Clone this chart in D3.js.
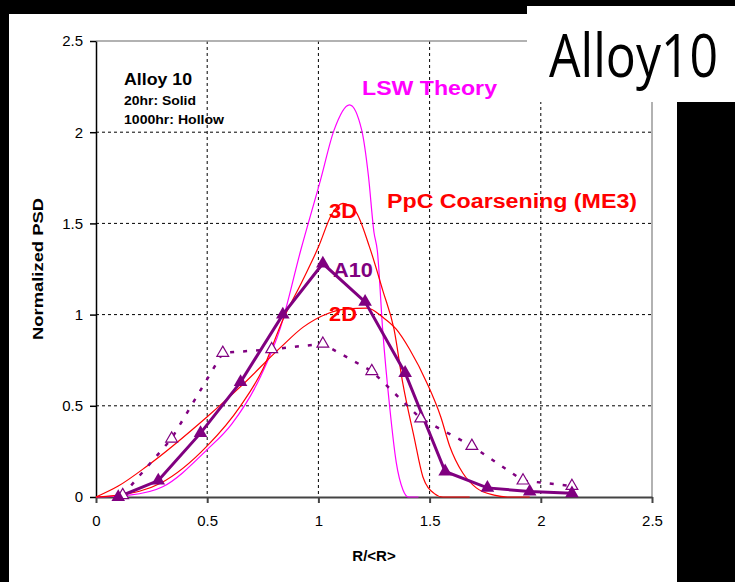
<!DOCTYPE html>
<html lang="en">
<head>
    <meta charset="UTF-8">
    <script src="https://d3js.org/d3.v7.min.js"></script>
    <title>Alloy10 PSD</title>
    <style>
        html, body { margin: 0; padding: 0; background: #000; }
        svg { display: block; }
        .tick text { font-family: "Liberation Sans", Arial, sans-serif; font-size: 15px; fill: #000; }
    </style>
</head>
<body>
    <div class="fig"></div>
    <script>
        // ---------------- data ----------------
        const xTicks = [0, 0.5, 1, 1.5, 2, 2.5];
        const yTicks = [0, 0.5, 1, 1.5, 2, 2.5];

        // Alloy 10, 20hr (solid triangles)
        const solidX = [0.10, 0.28, 0.47, 0.65, 0.84, 1.02, 1.21, 1.39, 1.57, 1.76, 1.95, 2.14];
        const solidY = [0.00, 0.09, 0.35, 0.63, 1.00, 1.28, 1.07, 0.68, 0.14, 0.05, 0.03, 0.02];

        // Alloy 10, 1000hr (hollow triangles)
        const hollowX = [0.12, 0.34, 0.57, 0.79, 1.02, 1.24, 1.46, 1.69, 1.92, 2.14];
        const hollowY = [0.01, 0.32, 0.79, 0.81, 0.84, 0.69, 0.43, 0.28, 0.09, 0.06];

        // LSW theory curve
        const lswX = [0, 0.15, 0.30, 0.50, 0.61, 0.74, 0.83, 0.92, 1.01, 1.07, 1.14, 1.195, 1.225, 1.25, 1.265, 1.29, 1.32, 1.35, 1.38, 1.405, 1.45];
        const lswY = [0, 0.01, 0.056, 0.26, 0.40, 0.66, 0.93, 1.35, 1.74, 2.01, 2.15, 2.01, 1.76, 1.45, 1.35, 0.90, 0.50, 0.19, 0.04, 0, 0];

        // PpC coarsening 3D curve
        const ppc3dX = [0, 0.10, 0.29, 0.50, 0.65, 0.75, 0.84, 0.93, 1.00, 1.06, 1.11, 1.165, 1.23, 1.29, 1.34, 1.38, 1.43, 1.47, 1.52, 1.56, 1.68];
        const ppc3dY = [0, 0.01, 0.075, 0.28, 0.50, 0.70, 0.97, 1.19, 1.37, 1.55, 1.61, 1.57, 1.37, 1.13, 0.92, 0.62, 0.33, 0.11, 0.02, 0, 0];

        // PpC coarsening 2D curve
        const ppc2dX = [0, 0.10, 0.23, 0.50, 0.65, 0.83, 0.93, 1.04, 1.12, 1.22, 1.29, 1.35, 1.41, 1.49, 1.55, 1.59, 1.65, 1.71, 1.79, 1.85, 1.95];
        const ppc2dY = [0, 0.06, 0.17, 0.44, 0.605, 0.82, 0.93, 1.005, 1.03, 1.035, 0.985, 0.92, 0.81, 0.62, 0.44, 0.28, 0.13, 0.05, 0.01, 0, 0];

        const zip = (xs, ys) => xs.map((x, i) => ({ x: x, y: ys[i] }));

        /*------------------- Window setting --------------------*/
        const width = 735, height = 582;
        const plot = { left: 96, right: 652, top: 41, bottom: 497 };
        const purple = "#800080", red = "#ff0000", magenta = "#ff00ff";
        const arial = '"Liberation Sans", Arial, sans-serif';

        const svg = d3.select(".fig").append("svg")
            .attr("width", width)
            .attr("height", height);

        // white panel on black background
        svg.append("rect").attr("x", 9).attr("y", 14).attr("width", 668).attr("height", 568).attr("fill", "#fff");

        const x = d3.scaleLinear().domain([0, 2.5]).range([plot.left, plot.right]);
        const y = d3.scaleLinear().domain([0, 2.5]).range([plot.bottom, plot.top]);

        // dashed grid
        svg.append("g").selectAll("line")
            .data(yTicks.filter(d => d > 0 && d < 2.5))
            .enter().append("line")
            .attr("x1", plot.left).attr("x2", plot.right)
            .attr("y1", d => y(d)).attr("y2", d => y(d))
            .attr("stroke", "#000").attr("stroke-dasharray", "3,3");
        svg.append("g").selectAll("line")
            .data(xTicks.filter(d => d > 0 && d < 2.5))
            .enter().append("line")
            .attr("y1", plot.top).attr("y2", plot.bottom)
            .attr("x1", d => x(d)).attr("x2", d => x(d))
            .attr("stroke", "#000").attr("stroke-dasharray", "3,3");

        // plot frame top / right
        svg.append("path")
            .attr("d", `M${plot.left},${plot.top}H${plot.right}V${plot.bottom}`)
            .attr("fill", "none").attr("stroke", "#999").attr("stroke-width", 1.5);

        // title box sits over the top right corner of the plot
        svg.append("rect").attr("x", 527).attr("y", 6).attr("width", 208).attr("height", 96).attr("fill", "#fff");

        // axes
        const fmt = d => String(d);
        svg.append("g")
            .attr("transform", `translate(${plot.left},0)`)
            .call(d3.axisLeft(y).tickValues(yTicks).tickFormat(fmt).tickSize(6).tickPadding(7).tickSizeOuter(0))
            .call(g => g.selectAll("line, path").attr("stroke", "#000").attr("stroke-width", 1.5));
        svg.append("g")
            .attr("transform", `translate(0,${plot.bottom})`)
            .call(d3.axisBottom(x).tickValues(xTicks).tickFormat(fmt).tickSize(6).tickPadding(12).tickSizeOuter(0))
            .call(g => g.selectAll("line, path").attr("stroke", "#444").attr("stroke-width", 2));

        // model curves
        const curve = d3.line().x(d => x(d.x)).y(d => y(d.y)).curve(d3.curveMonotoneX);
        [[lswX, lswY, magenta], [ppc2dX, ppc2dY, red], [ppc3dX, ppc3dY, red]].forEach(s => {
            svg.append("path")
                .datum(zip(s[0], s[1]))
                .attr("d", curve)
                .attr("fill", "none")
                .attr("stroke", s[2])
                .attr("stroke-width", 1.2);
        });

        // measured series
        const lin = d3.line().x(d => x(d.x)).y(d => y(d.y));
        svg.append("path")
            .datum(zip(hollowX, hollowY))
            .attr("d", lin)
            .attr("fill", "none").attr("stroke", purple)
            .attr("stroke-width", 2.5).attr("stroke-dasharray", "4,9");
        svg.append("path")
            .datum(zip(solidX, solidY))
            .attr("d", lin)
            .attr("fill", "none").attr("stroke", purple)
            .attr("stroke-width", 3);

        const tri = d3.symbol().type(d3.symbolTriangle);
        svg.append("g").selectAll("path")
            .data(zip(hollowX, hollowY))
            .enter().append("path")
            .attr("d", tri.size(60)())
            .attr("transform", d => `translate(${x(d.x)},${y(d.y)})`)
            .attr("fill", "#fff").attr("stroke", purple).attr("stroke-width", 1.2);
        svg.append("g").selectAll("path")
            .data(zip(solidX, solidY))
            .enter().append("path")
            .attr("d", tri.size(80)())
            .attr("transform", d => `translate(${x(d.x)},${y(d.y)})`)
            .attr("fill", purple);

        // text labels
        const label = (txt, px, py, size, len, color) => {
            svg.append("text")
                .attr("x", px).attr("y", py)
                .attr("font-family", arial)
                .attr("font-size", size)
                .attr("font-weight", "bold")
                .attr("fill", color)
                .attr("textLength", len)
                .attr("lengthAdjust", "spacingAndGlyphs")
                .text(txt);
        };
        label("Alloy 10", 124, 85, 17, 68, "#000");
        label("20hr: Solid", 124, 105, 12.5, 72, "#000");
        label("1000hr: Hollow", 124, 124, 12.5, 100, "#000");
        label("LSW Theory", 362, 95, 20, 135, magenta);
        label("PpC Coarsening (ME3)", 387, 208, 20, 250, red);
        label("3D", 329, 218, 20, 28, red);
        label("A10", 333, 277, 20, 40, purple);
        label("2D", 329, 321, 20, 28, red);

        // big title, narrow and tall
        svg.append("text")
            .attr("transform", "translate(549,77) scale(1,1.22)")
            .attr("font-family", '"Open Sans", "Noto Sans", sans-serif')
            .attr("font-size", 50)
            .attr("fill", "#000")
            .text("Alloy10");

        // axis titles
        svg.append("text")
            .attr("x", (plot.left + plot.right) / 2).attr("y", 561)
            .attr("text-anchor", "middle")
            .attr("font-family", arial).attr("font-size", 15).attr("font-weight", "bold")
            .text("R/<R>");
        svg.append("text")
            .attr("transform", `translate(43,${(plot.top + plot.bottom) / 2}) rotate(-90)`)
            .attr("text-anchor", "middle")
            .attr("font-family", arial).attr("font-size", 15).attr("font-weight", "bold")
            .attr("textLength", 142).attr("lengthAdjust", "spacingAndGlyphs")
            .text("Normalized PSD");
    </script>
</body>
</html>
